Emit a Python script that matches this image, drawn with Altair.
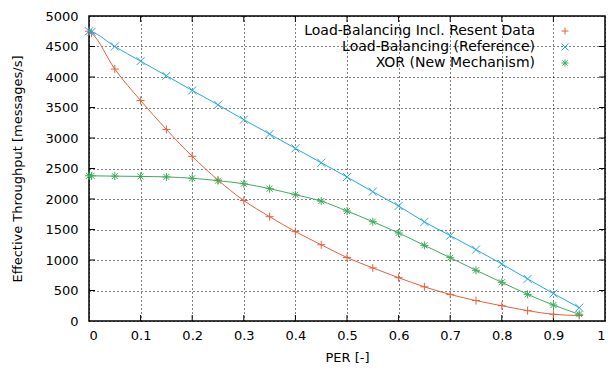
import altair as alt
import pandas as pd

per = [0.0, 0.005, 0.05, 0.10, 0.15, 0.20, 0.25, 0.30, 0.35, 0.40, 0.45, 0.50,
       0.55, 0.60, 0.65, 0.70, 0.75, 0.80, 0.85, 0.90, 0.95]
lb_resent = [4750, 4720, 4130, 3615, 3140, 2700, 2310, 1975, 1710, 1465, 1250, 1040,
             870, 710, 560, 435, 335, 250, 170, 110, 90]
lb_reference = [4750, 4740, 4500, 4260, 4020, 3780, 3545, 3300, 3065, 2830, 2595, 2360,
                2120, 1885, 1625, 1400, 1170, 935, 690, 450, 218]
xor_new = [2380, 2380, 2375, 2370, 2362, 2340, 2300, 2250, 2170, 2070, 1965, 1803,
           1628, 1443, 1240, 1038, 831, 634, 437, 262, 110]

series_names = ["Load-Balancing Incl. Resent Data", "Load-Balancing (Reference)", "XOR (New Mechanism)"]
series_colors = ["#e8603c", "#27a8dc", "#3fab5c"]
series_shapes = [
    "M-1,0L1,0M0,-1L0,1",
    "M-1,-1L1,1M-1,1L1,-1",
    "M-1,0L1,0M0,-1L0,1M-0.75,-0.75L0.75,0.75M-0.75,0.75L0.75,-0.75",
]

x_ticks = [0, 0.1, 0.2, 0.3, 0.4, 0.5, 0.6, 0.7, 0.8, 0.9, 1.0]
y_ticks = [0, 500, 1000, 1500, 2000, 2500, 3000, 3500, 4000, 4500, 5000]

W, H = 516, 305
FONT = "DejaVu Sans"
AX_FS = 13
LEG_FS = 14

rows = []
for name, vals in zip(series_names, [lb_resent, lb_reference, xor_new]):
    for p, v in zip(per, vals):
        rows.append({"per": p, "val": v, "series": name})
df = pd.DataFrame(rows)

xscale = alt.Scale(domain=[0, 1], nice=False, zero=False)
yscale = alt.Scale(domain=[0, 5000], nice=False)

xaxis = alt.Axis(values=x_ticks, title="PER [-]", grid=True, gridDash=[1, 3], gridColor="black",
                 gridOpacity=1, ticks=False, domain=False, labelPadding=8, titlePadding=9,
                 labelOverlap=False,
                 labelExpr="datum.value == 0 ? '0' : datum.value == 1 ? '1' : format(datum.value, '.1f')")
yaxis = alt.Axis(values=y_ticks, title="Effective Throughput [messages/s]", grid=True, gridDash=[1, 3],
                 gridColor="black", gridOpacity=1, ticks=False, domain=False, labelPadding=11,
                 titlePadding=20, format="d", labelOverlap=False)


def X(field):
    return alt.X(field, scale=xscale, axis=xaxis)


def Y(field):
    return alt.Y(field, scale=yscale, axis=yaxis)


layers = []

# inside ticks on all four sides
xt = pd.DataFrame({"t": x_ticks[1:-1]})
yt = pd.DataFrame({"t": y_ticks[1:-1]})
tick_len = 6
layers.append(alt.Chart(xt).mark_rule(color="black", strokeWidth=1).encode(
    x=X("t:Q"), y=alt.value(H), y2=alt.value(H - tick_len)))
layers.append(alt.Chart(xt).mark_rule(color="black", strokeWidth=1).encode(
    x=X("t:Q"), y=alt.value(0), y2=alt.value(tick_len)))
layers.append(alt.Chart(yt).mark_rule(color="black", strokeWidth=1).encode(
    y=Y("t:Q"), x=alt.value(0), x2=alt.value(tick_len)))
layers.append(alt.Chart(yt).mark_rule(color="black", strokeWidth=1).encode(
    y=Y("t:Q"), x=alt.value(W), x2=alt.value(W - tick_len)))

for i, (name, color, shape) in enumerate(zip(series_names, series_colors, series_shapes)):
    sub = df[df.series == name]
    layers.append(alt.Chart(sub).mark_line(color=color, strokeWidth=1, interpolate="monotone").encode(
        x=X("per:Q"), y=Y("val:Q")))
    layers.append(alt.Chart(sub).mark_point(shape=shape, color=color, filled=False, size=64,
                                            strokeWidth=1, opacity=1).encode(
        x=X("per:Q"), y=Y("val:Q")))
    ly = 15 + 16 * i
    leg = pd.DataFrame({"series": [name]})
    layers.append(alt.Chart(leg).mark_text(align="right", baseline="middle", font=FONT, fontSize=LEG_FS,
                                           color="black").encode(
        text="series:N", x=alt.value(446), y=alt.value(ly)))
    layers.append(alt.Chart(leg).mark_point(shape=shape, color=color, filled=False, size=50,
                                            strokeWidth=1, opacity=1).encode(
        x=alt.value(476), y=alt.value(ly)))

chart = alt.layer(*layers).properties(
    width=W, height=H,
    autosize=alt.AutoSizeParams(type="none"),
    padding={"left": 89, "top": 16, "right": 9, "bottom": 49},
    background="white",
).configure_view(stroke="black", strokeWidth=1.5).configure_axis(
    labelFont=FONT, titleFont=FONT, labelFontSize=AX_FS, titleFontSize=AX_FS,
    labelColor="black", titleColor="black", titleFontWeight="normal",
)

chart.save("out.html", embed_options={"renderer": "svg", "actions": False})
